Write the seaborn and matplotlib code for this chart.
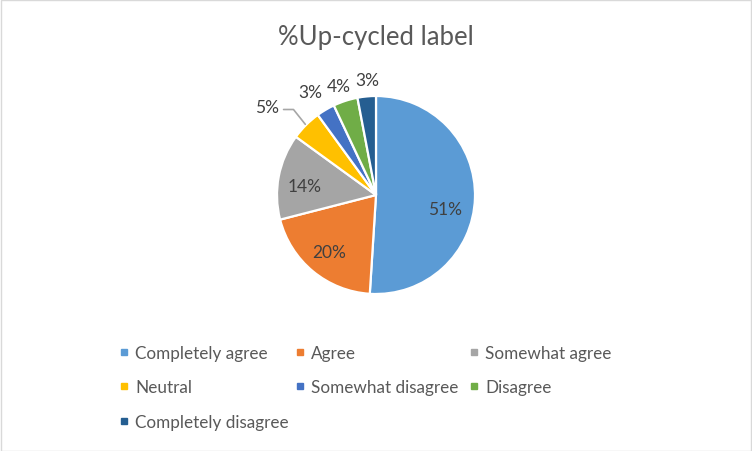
import numpy as np
import seaborn as sns
import matplotlib.pyplot as plt
from matplotlib.lines import Line2D
from matplotlib.patches import Rectangle

# Data
categories = ["Completely agree", "Agree", "Somewhat agree", "Neutral",
              "Somewhat disagree", "Disagree", "Completely disagree"]
shares = [51, 20, 14, 5, 3, 4, 3]
colors = ["#5B9BD5", "#ED7D31", "#A5A5A5", "#FFC000",
          "#4472C4", "#70AD47", "#255E91"]
title = "%Up-cycled label"

# label placement (best-fit look): distance in radii and angle nudge in degrees
label_dist = [0.71, 0.75, 0.73, 1.42, 1.24, 1.16, 1.165]
label_nudge = [-9.7, 0, 3.7, 6, 2, 1, -1]

sns.set_theme(style="white")
plt.rcParams['font.family'] = ['Lato', 'DejaVu Sans']

fig = plt.figure(figsize=(7.52, 4.52), dpi=100)
fig.patches.append(Rectangle((0.0007, 0.001), 0.9986, 0.997, transform=fig.transFigure,
                             fill=False, edgecolor="#D9D9D9", linewidth=1))

fig.text(0.5, 0.916, title, ha="center", va="center", fontsize=18.5, color="#595959")

# pie axes: centre ~ (376,196) px, radius ~99 px
r_px = 99
ax = fig.add_axes([(376 - r_px) / 752, 1 - (196 + r_px) / 452,
                   2 * r_px / 752, 2 * r_px / 452])
wedges, _ = ax.pie(shares, colors=colors, startangle=90, counterclock=False,
                   wedgeprops=dict(edgecolor="white", linewidth=1.6))
ax.set_xlim(-1, 1)
ax.set_ylim(-1, 1)
ax.set_aspect("equal")

for w, val, d, nudge in zip(wedges, shares, label_dist, label_nudge):
    mid = (w.theta1 + w.theta2) / 2
    a = np.deg2rad(mid + nudge)
    x, y = d * np.cos(a), d * np.sin(a)
    ax.text(x, y, f"{val}%", ha="center", va="center", fontsize=12.5, color="#404040")
    if d > 1.4:
        m = np.deg2rad(mid)
        ex, ey = 1.01 * np.cos(m), 1.01 * np.sin(m)
        ax.plot([x + 0.17, x + 0.27, ex], [y - 0.03, y - 0.03, ey], color="#A6A6A6",
                linewidth=1.2, clip_on=False)

# legend: Excel lays it out row-major in 3 equal-width columns,
# so build one legend per column
ncol = 3
col_x = [0.147, 0.381, 0.612]
for c in range(ncol):
    idx = list(range(c, len(categories), ncol))
    handles = [Line2D([], [], marker="s", linestyle="none", markersize=5,
                      markerfacecolor=colors[i], markeredgecolor=colors[i]) for i in idx]
    fig.legend(handles, [categories[i] for i in idx], loc="upper left",
               bbox_to_anchor=(col_x[c], 0.254), frameon=False, fontsize=12.3,
               labelcolor="#595959", handlelength=0.6, handletextpad=0.35,
               labelspacing=1.08, borderpad=0)

fig.savefig("out.png", dpi=100)
